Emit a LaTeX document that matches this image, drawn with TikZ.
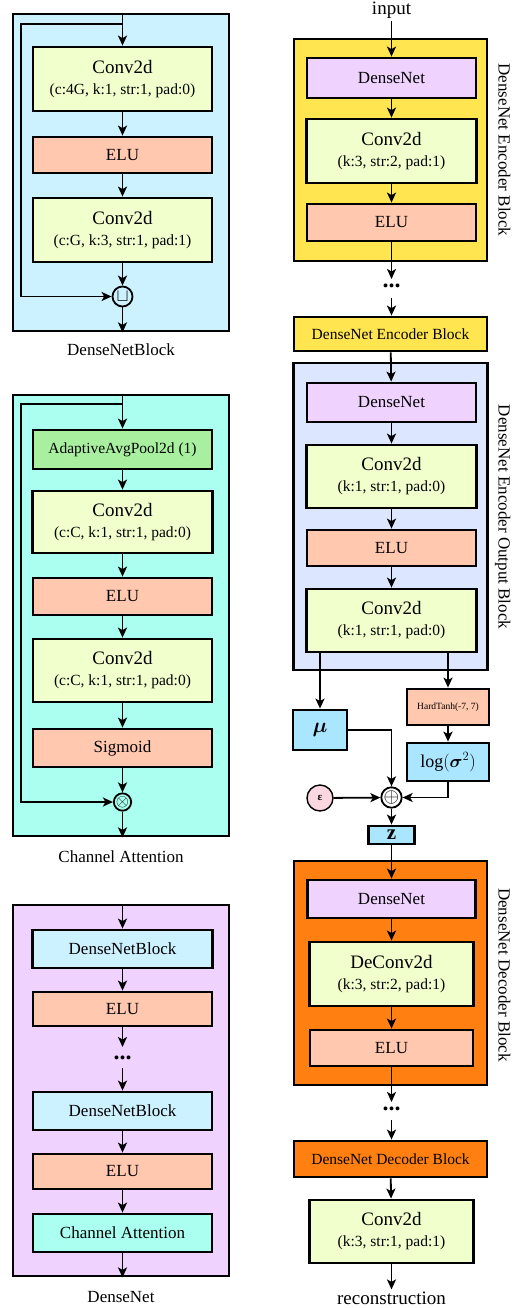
\documentclass[tikz,border=0pt]{standalone}
\usepackage{fix-cm}
\usepackage{bm}
\usepackage{fontspec}
\setmainfont{Liberation Serif}
\usetikzlibrary{arrows.meta,calc}
\definecolor{dnbbg}{HTML}{CCF2FF}
\definecolor{convc}{HTML}{F0FFCC}
\definecolor{eluc}{HTML}{FFC8AF}
\definecolor{cabg}{HTML}{AAFFF0}
\definecolor{poolc}{HTML}{A8F0A0}
\definecolor{dnbg}{HTML}{F0D2FF}
\definecolor{encc}{HTML}{FFE650}
\definecolor{outbg}{HTML}{DDE6FF}
\definecolor{muc}{HTML}{AAE6FF}
\definecolor{epsc}{HTML}{FAD7E1}
\definecolor{decc}{HTML}{FF8010}
\tikzset{
  blk/.style={draw, line width=2.8pt, inner sep=0pt, align=center},
  outerbox/.style={draw, line width=2.8pt, inner sep=0pt},
  arr/.style={-{Stealth[length=10pt,width=9pt,inset=2.5pt]}, line width=1.8pt},
  wh/.style n args={2}{minimum width=#1pt, minimum height=#2pt},
  fM/.style={font=\fontsize{17}{20}\selectfont},
  fC/.style={font=\fontsize{19}{21}\selectfont},
  fS/.style={font=\fontsize{15.5}{18}\selectfont},
  opc/.style={circle, draw, line width=1.8pt, inner sep=0pt},
  dotsty/.style={font=\fontsize{24}{24}\selectfont\bfseries, inner sep=0pt},
  sidelbl/.style={rotate=-90, anchor=base, font=\fontsize{17}{20}\selectfont},
}
\newcommand{\psub}[1]{{\fontsize{15.5}{18}\selectfont #1}}
\begin{document}
\begin{tikzpicture}[x=1pt,y=-1pt]
\useasboundingbox (0,0) rectangle (511,1308);

% ---------- DenseNetBlock ----------
\node[outerbox, fill=dnbbg, wh={216}{317}] (dnbo) at (121,172.5) {};
\node[blk, fill=convc, wh={179}{64}, fC] (c1) at (122.5,79) {Conv2d\\\psub{(c:4G, k:1, str:1, pad:0)}};
\node[blk, fill=eluc, wh={179}{36}, fM] (e1) at (122.5,155) {ELU};
\node[blk, fill=convc, wh={179}{64}, fC] (c2) at (122.5,230) {Conv2d\\\psub{(c:G, k:3, str:1, pad:1)}};
\node[opc, minimum size=20pt, font=\fontsize{18}{18}\selectfont] (cup) at (122.5,296.5) {$\sqcup$};
\node[fM] (dnbl) at (121,350) {DenseNetBlock};
\coordinate (t1) at (c1.north |- dnbo.north);
\coordinate (s1) at (122.5,24);
\coordinate (s1l) at (21,24);
\coordinate (o1) at (cup.south |- dnbo.south);
\draw[arr] (t1) -- (c1.north);
\draw[arr] (s1) -- (s1l) |- (cup.west);
\draw[arr] (c1) -- (e1);
\draw[arr] (e1) -- (c2);
\draw[arr] (c2) -- (cup);
\draw[arr] (cup) -- (o1);

% ---------- Channel Attention ----------
\node[outerbox, fill=cabg, wh={216}{441}] (cao) at (121,615.5) {};
\node[blk, fill=poolc, wh={179}{39}, fS] (pool) at (122.5,449.5) {AdaptiveAvgPool2d (1)};
\node[blk, fill=convc, wh={180}{62}, fC] (c3) at (122.5,522) {Conv2d\\\psub{(c:C, k:1, str:1, pad:0)}};
\node[blk, fill=eluc, wh={179}{37}, fM] (e2) at (122.5,596.5) {ELU};
\node[blk, fill=convc, wh={179}{63}, fC] (c4) at (122.5,670.5) {Conv2d\\\psub{(c:C, k:1, str:1, pad:0)}};
\node[blk, fill=eluc, wh={179}{38}, fM] (sig) at (122.5,748) {Sigmoid};
\node[opc, minimum size=17pt, font=\fontsize{17}{17}\selectfont] (ot) at (122.5,802) {$\otimes$};
\node[fM] (cal) at (121,857) {Channel Attention};
\coordinate (t2) at (pool.north |- cao.north);
\coordinate (s2) at (122.5,404);
\coordinate (s2l) at (21,404);
\coordinate (o2) at (ot.south |- cao.south);
\draw[arr] (t2) -- (pool.north);
\draw[arr] (s2) -- (s2l) |- (ot.west);
\draw[arr] (pool) -- (c3);
\draw[arr] (c3) -- (e2);
\draw[arr] (e2) -- (c4);
\draw[arr] (c4) -- (sig);
\draw[arr] (sig) -- (ot);
\draw[arr] (ot) -- (o2);

% ---------- DenseNet ----------
\node[outerbox, fill=dnbg, wh={216}{371}] (dno) at (121,1090.5) {};
\node[blk, fill=dnbbg, wh={180}{38}, fM] (b1) at (122.5,949) {DenseNetBlock};
\node[blk, fill=eluc, wh={179}{34}, fM] (e3) at (122.5,1009) {ELU};
\node[dotsty] (dl) at (122.5,1058) {...};
\node[blk, fill=dnbbg, wh={179}{38}, fM] (b2) at (122.5,1111) {DenseNetBlock};
\node[blk, fill=eluc, wh={179}{35}, fM] (e4) at (122.5,1171.5) {ELU};
\node[blk, fill=cabg, wh={179}{38}, fM] (cab) at (122.5,1233) {Channel Attention};
\node[fM] (dnl) at (121,1297) {DenseNet};
\coordinate (t3) at (b1.north |- dno.north);
\coordinate (d1a) at (122.5,1047);
\coordinate (d1b) at (122.5,1068);
\coordinate (o3) at (cab.south |- dno.south);
\draw[arr] (t3) -- (b1.north);
\draw[arr] (b1) -- (e3);
\draw[arr] (e3) -- (d1a);
\draw[arr] (d1b) -- (b2);
\draw[arr] (b2) -- (e4);
\draw[arr] (e4) -- (cab);
\draw[arr] (cab) -- (o3);

% ---------- Right column ----------
\node[fC, inner sep=2pt] (inp) at (391.5,10) {input};
\node[outerbox, fill=encc, wh={193}{222}] (enco) at (390.5,150) {};
\node[blk, fill=dnbg, wh={169}{40}, fM] (r1) at (391.5,78) {DenseNet};
\node[blk, fill=convc, wh={170}{64}, fC] (r2) at (391.5,151) {Conv2d\\\psub{(k:3, str:2, pad:1)}};
\node[blk, fill=eluc, wh={169}{37}, fM] (r3) at (391.5,222.5) {ELU};
\node[sidelbl] (encl) at (498.5,150) {DenseNet Encoder Block};
\coordinate (r3o) at (391.5,279);
\node[dotsty] (dr1) at (391.5,286) {...};
\coordinate (r3i) at (391.5,298);
\draw[arr] (inp) -- (r1);
\draw[arr] (r1) -- (r2);
\draw[arr] (r2) -- (r3);
\draw[arr] (r3) -- (r3o);

\node[blk, fill=encc, wh={193}{34}, fS] (encb) at (390.5,334) {DenseNet Encoder Block};
\draw[arr] (r3i) -- (r3i |- encb.north);

\node[outerbox, fill=outbg, wh={194}{307}] (outo) at (390.5,516.5) {};
\node[blk, fill=dnbg, wh={169}{39}, fM] (r4) at (391.5,402.5) {DenseNet};
\node[blk, fill=convc, wh={170}{63}, fC] (r5) at (391.5,476.5) {Conv2d\\\psub{(k:1, str:1, pad:0)}};
\node[blk, fill=eluc, wh={169}{36}, fM] (r6) at (391.5,548) {ELU};
\node[blk, fill=convc, wh={170}{63}, fC] (r7) at (391.5,620.5) {Conv2d\\\psub{(k:1, str:1, pad:0)}};
\node[sidelbl] (outl) at (498.5,517) {DenseNet Encoder Output Block};
\draw[arr] (encb) -- (r4);
\draw[arr] (r4) -- (r5);
\draw[arr] (r5) -- (r6);
\draw[arr] (r6) -- (r7);

\node[blk, fill=muc, wh={54}{40}, font=\fontsize{21}{24}\selectfont] (mu) at (320,730) {$\bm{\mu}$};
\node[blk, fill=eluc, wh={82}{36}, font=\fontsize{9.5}{11}\selectfont] (ht) at (448,707) {HardTanh(-7, 7)};
\node[blk, fill=muc, wh={82}{38}, font=\fontsize{18}{20}\selectfont] (lg) at (448,762) {$\log(\bm{\sigma}^2)$};
\node[opc, minimum size=19pt, font=\fontsize{20}{20}\selectfont] (op) at (391.5,797.5) {$\oplus$};
\node[opc, fill=epsc, minimum size=26pt, line width=1.4pt, font=\fontsize{11}{12}\selectfont\bfseries] (eps) at (320,798) {ε};
\node[blk, fill=muc, wh={46}{18}, font=\fontsize{21}{22}\selectfont\bfseries] (z) at (391.5,835) {z};
\draw[arr] (r7.south -| mu.north) -- (mu.north);
\draw[arr] (r7.south -| ht.north) -- (ht.north);
\draw[arr] (ht) -- (lg);
\draw[arr] (mu.east) -| (op.north);
\draw[arr] (lg.south) |- (op.east);
\draw[arr] (eps) -- (op);
\draw[arr] (op) -- (z);

\node[outerbox, fill=decc, wh={193}{224}] (deco) at (390.5,973) {};
\node[blk, fill=dnbg, wh={168}{38}, fM] (r8) at (391.5,899) {DenseNet};
\node[blk, fill=convc, wh={164}{64}, fC] (r9) at (391.5,974) {DeConv2d\\\psub{(k:3, str:2, pad:1)}};
\node[blk, fill=eluc, wh={163}{36}, fM] (r10) at (391.5,1048) {ELU};
\node[sidelbl] (decl) at (498.5,975) {DenseNet Decoder Block};
\coordinate (r10o) at (391.5,1102);
\node[dotsty] (dr2) at (391.5,1109) {...};
\coordinate (r10i) at (391.5,1120);
\draw[arr] (z) -- (r8);
\draw[arr] (r8) -- (r9);
\draw[arr] (r9) -- (r10);
\draw[arr] (r10) -- (r10o);

\node[blk, fill=decc, wh={193}{36}, fS] (decb) at (390.5,1159) {DenseNet Decoder Block};
\node[blk, fill=convc, wh={164}{63}, fC] (r11) at (391.5,1231.5) {Conv2d\\\psub{(k:3, str:1, pad:1)}};
\node[fC, inner sep=2pt] (rec) at (391.5,1298) {reconstruction};
\draw[arr] (r10i) -- (r10i |- decb.north);
\draw[arr] (decb) -- (r11);
\draw[arr] (r11) -- (rec);
\end{tikzpicture}
\end{document}
